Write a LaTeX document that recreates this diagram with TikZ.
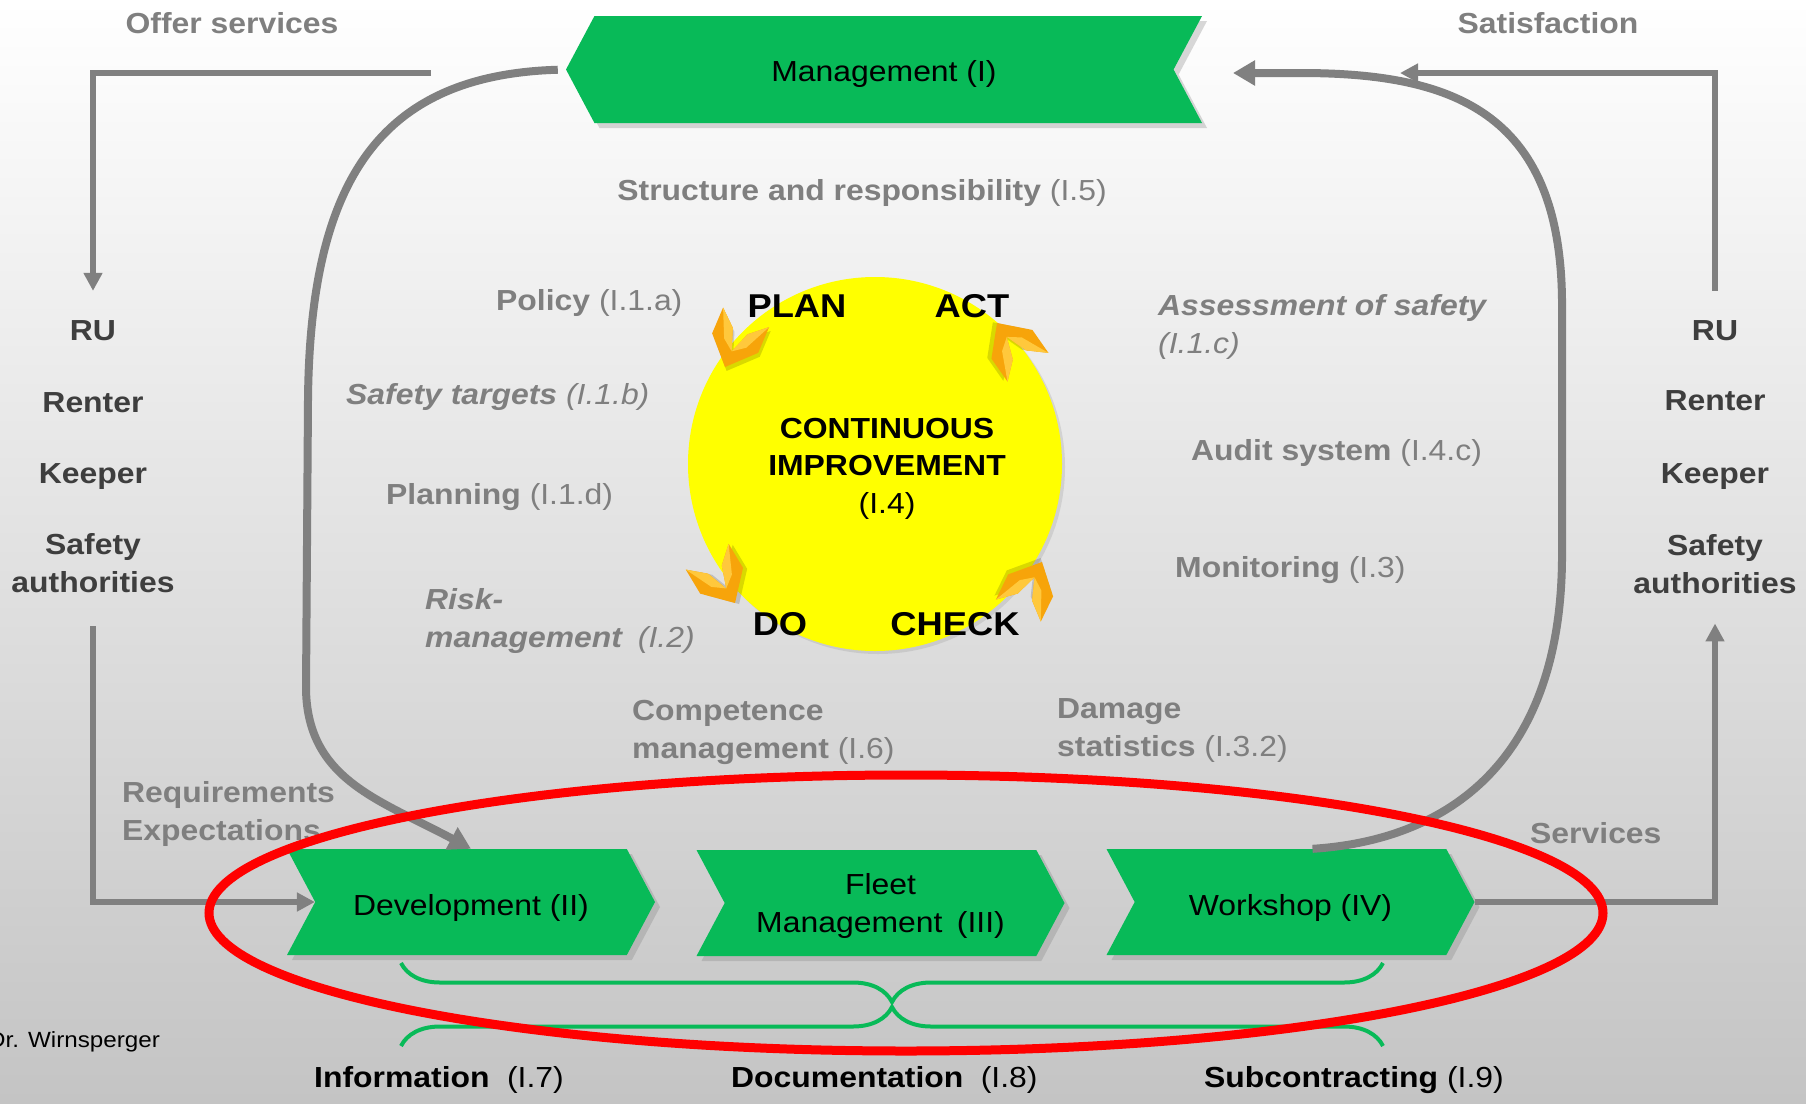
\documentclass[tikz,border=0pt]{standalone}
\usepackage{fontspec}
\setmainfont{Liberation Sans}[FakeStretch=1.1]
\usetikzlibrary{arrows.meta,shapes.symbols,shadows,decorations.pathreplacing}

\definecolor{procgreen}{RGB}{8,186,88}
\definecolor{txtgray}{RGB}{127,127,127}
\definecolor{coldark}{RGB}{62,62,62}
\definecolor{linegray}{RGB}{128,128,128}
\definecolor{bgbot}{RGB}{196,196,196}
\definecolor{chevorange}{RGB}{247,164,10}
\definecolor{chevlight}{RGB}{255,200,60}
\definecolor{pdcayellow}{RGB}{255,255,0}

\newcommand{\lblfont}{\fontsize{29}{37.5}\selectfont}

\tikzset{
    chev/.pic={
        \fill[black, opacity=.15] (3,-3) -- (-23,22) -- (-51,22) -- (-36,5) -- (-14,-3) -- (-36,-11) -- (-51,-28) -- (-23,-28) -- cycle;
        \fill[chevorange] (0,0) -- (-26,25) -- (-54,25) -- (-39,8) -- (-17,0) -- (-39,-8) -- (-54,-25) -- (-26,-25) -- cycle;
        \fill[chevlight] (-17,0) -- (-39,8) -- (-54,25) -- (-26,12) -- cycle;
        \fill[chevlight] (-17,0) -- (-39,-8) -- (-54,-25) -- (-26,-12) -- cycle;
    }
}

\begin{document}
\begin{tikzpicture}[x=1pt, y=-1pt,
    lbl/.style={inner sep=0pt, text=txtgray, font=\lblfont, align=left},
    side/.style={inner sep=0pt, text=coldark, font=\lblfont\bfseries, align=center},
    btm/.style={inner sep=0pt, text=black, font=\lblfont},
    phase/.style={inner sep=0pt, text=black, font=\fontsize{33}{40}\selectfont\bfseries},
    proc/.style={signal, signal pointer angle=124, fill=procgreen, minimum width=368pt,
        minimum height=106pt, inner sep=0pt, align=center, font=\lblfont, text depth=0pt,
        drop shadow={shadow xshift=5pt, shadow yshift=-5pt, opacity=.3}},
    conn/.style={draw=linegray, line width=6pt, -{Triangle[length=18pt,width=18pt]}},
    loopline/.style={draw=linegray, line width=8pt, -{Triangle[length=22pt,width=24pt]}},
    grpbrace/.style={draw=procgreen, line width=4pt, decorate}]

    \useasboundingbox (0,0) rectangle (1806,1103);
    \fill[top color=white, bottom color=bgbot] (0,0) rectangle (1806,1103);

    % management and the three processes
    \node[proc, signal to=west, signal from=east, minimum width=636pt, minimum height=107pt, text height=24pt] (mgmt) at (884,69.5) {Management (I)};
    \node[proc, signal to=east, signal from=west, text height=27pt] (dev) at (471,902) {Development (II)};
    \node[proc, signal to=east, signal from=west] (fleet) at (880.5,903) {Fleet\\Management\enspace(III)};
    \node[proc, signal to=east, signal from=west, text height=27pt] (ws) at (1290.5,902) {Workshop (IV)};

    % PDCA circle
    \node[circle, fill=pdcayellow, minimum size=374pt, inner sep=0pt,
        drop shadow={shadow xshift=3pt, shadow yshift=-3pt, opacity=.2}] (pdca) at (875,464) {};
    \node[phase, anchor=base] (plan) at (797,317) {PLAN};
    \node[phase, anchor=base] (act) at (972,317) {ACT};
    \node[phase, anchor=base] (do) at (780,635) {DO};
    \node[phase, anchor=base] (check) at (955,635) {CHECK};
    \node[btm, anchor=base, align=center] (ci) at (887,513) {\textbf{CONTINUOUS}\\\textbf{IMPROVEMENT}\\(I.4)};
    \pic[rotate=247] at (725,367) {chev};
    \pic[rotate=125] at (997,323) {chev};
    \pic[rotate=301] at (735,603) {chev};
    \pic[rotate=64] at (1042,562) {chev};

    % elements of the management system
    \node[lbl, anchor=base] (offer) at (232,33) {\bfseries Offer services};
    \node[lbl, anchor=base] (satis) at (1548,33) {\bfseries Satisfaction};
    \node[lbl, anchor=base] (struct) at (862,200) {\textbf{Structure and responsibility} (I.5)};
    \node[lbl, anchor=base west] (policy) at (496,310) {\textbf{Policy} (I.1.a)};
    \node[lbl, anchor=base west, font=\lblfont\itshape] (targets) at (346,404) {\textbf{Safety targets} (I.1.b)};
    \node[lbl, anchor=base west] (planning) at (386,504) {\textbf{Planning} (I.1.d)};
    \node[lbl, anchor=base west, font=\lblfont\itshape] (risk) at (425,647) {\textbf{Risk-}\\\textbf{management}\hspace{.55em}(I.2)};
    \node[lbl, anchor=base west] (compet) at (632,758) {\textbf{Competence}\\\textbf{management} (I.6)};
    \node[lbl, anchor=base west] (damage) at (1057,756) {\textbf{Damage}\\\textbf{statistics} (I.3.2)};
    \node[lbl, anchor=base west, font=\lblfont\itshape] (assess) at (1158,353) {\textbf{Assessment of safety}\\(I.1.c)};
    \node[lbl, anchor=base west] (audit) at (1191,460) {\textbf{Audit system} (I.4.c)};
    \node[lbl, anchor=base west] (monit) at (1175,577) {\textbf{Monitoring} (I.3)};
    \node[lbl, anchor=base west, font=\lblfont\bfseries] (requ) at (122,840) {Requirements\\Expectations};
    \node[lbl, anchor=base west] (serv) at (1530,843) {\bfseries Services};

    % stakeholders
    \node[side, anchor=base] (ruL) at (93,340) {RU};
    \node[side, anchor=base] (renterL) at (93,412) {Renter};
    \node[side, anchor=base] (keeperL) at (93,483) {Keeper};
    \node[side, anchor=base] (safetyL) at (93,592) {Safety\\authorities};
    \node[side, anchor=base] (ruR) at (1715,340) {RU};
    \node[side, anchor=base] (renterR) at (1715,410) {Renter};
    \node[side, anchor=base] (keeperR) at (1715,483) {Keeper};
    \node[side, anchor=base] (safetyR) at (1715,593) {Safety\\authorities};

    % support processes
    \node[btm, anchor=base west] (info) at (314,1087) {\textbf{Information}\hspace{.6em}(I.7)};
    \node[btm, anchor=base west] (docu) at (731,1087) {\textbf{Documentation}\hspace{.6em}(I.8)};
    \node[btm, anchor=base west] (subc) at (1204,1087) {\textbf{Subcontracting} (I.9)};
    \node[anchor=base west, inner sep=0pt, font=\fontsize{22}{26}\selectfont] (author) at (-12,1047) {Dr. Wirnsperger};

    \draw[grpbrace, decoration={brace, amplitude=39pt, mirror}] (401,963) -- (1383,963);
    \draw[grpbrace, decoration={brace, amplitude=39pt}] (401,1046) -- (1383,1046);

    % connectors
    \coordinate (offerend) at (431,73);
    \coordinate (satend) at (1400,73);
    \coordinate (mgmtin) at (1233,73);
    \draw[conn, shorten >=29pt] (offerend) -| (ruL.north);
    \draw[conn, shorten <=29pt] (ruR.north) |- (satend);
    \draw[conn, shorten <=34pt] (safetyL.south) |- (dev.west);
    \draw[conn, shorten >=30pt] (ws.east) -| (safetyR.south);
    \draw[loopline, shorten <=8pt] (mgmt.west) .. controls (380,75) and (310,180) .. (308,400)
        -- (306,690) .. controls (308,780) and (380,800) .. (dev.north);
    \draw[loopline] ([xshift=22pt]ws.north) .. controls (1450,840) and (1560,760) .. (1562,560)
        -- (1562,300) .. controls (1560,110) and (1450,73) .. (1300,73) -- (mgmtin);

    \draw[red, line width=9pt] (906,913) ellipse [x radius=697, y radius=138];
\end{tikzpicture}
\end{document}
